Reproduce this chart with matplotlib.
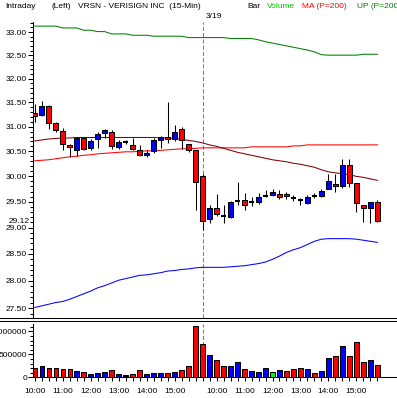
import numpy as np
import matplotlib
matplotlib.use('Agg')
import matplotlib.pyplot as plt
from matplotlib.ticker import FixedLocator, FuncFormatter, NullFormatter
from matplotlib.transforms import blended_transform_factory

plt.rcParams['font.family'] = ['Liberation Sans', 'DejaVu Sans']

# 15-min bars, 3/18 10:00 .. 3/19 15:45
opens = [31.28, 31.24, 31.42, 31.08, 30.91, 30.63, 30.52, 30.77, 30.57, 30.74,
         30.88, 30.89, 30.59, 30.69, 30.63, 30.53, 30.43, 30.51, 30.72, 30.78,
         30.75, 30.95, 30.65, 30.52,
         30.00, 29.17, 29.37, 29.22, 29.21, 29.51, 29.54, 29.49, 29.49, 29.61,
         29.63, 29.65, 29.65, 29.57, 29.53, 29.47, 29.61, 29.61, 29.75, 29.85,
         29.81, 30.22, 29.86, 29.44, 29.37, 29.49]
highs = [31.46, 31.54, 31.44, 31.10, 30.97, 30.65, 30.79, 30.79, 30.75, 30.89,
         30.95, 30.93, 30.73, 30.73, 30.77, 30.63, 30.52, 30.77, 30.81, 31.51,
         31.03, 30.99, 30.65, 30.52,
         30.05, 29.44, 29.66, 29.44, 29.51, 29.88, 29.67, 29.59, 29.67, 29.73,
         29.75, 29.73, 29.70, 29.63, 29.58, 29.63, 29.67, 29.75, 30.04, 30.04,
         30.34, 30.34, 29.86, 29.44, 29.49, 29.54]
lows = [31.10, 31.21, 30.95, 30.89, 30.52, 30.39, 30.40, 30.52, 30.52, 30.57,
        30.77, 30.54, 30.55, 30.64, 30.52, 30.41, 30.39, 30.47, 30.57, 30.66,
        30.70, 30.55, 30.49, 29.34,
        28.95, 29.08, 29.22, 29.09, 29.19, 29.43, 29.34, 29.42, 29.45, 29.60,
        29.61, 29.56, 29.55, 29.51, 29.44, 29.46, 29.57, 29.60, 29.75, 29.69,
        29.77, 29.78, 29.30, 29.10, 29.09, 29.11]
closes = [31.23, 31.42, 31.07, 30.93, 30.65, 30.59, 30.77, 30.55, 30.71, 30.85,
          30.93, 30.61, 30.69, 30.69, 30.55, 30.43, 30.47, 30.73, 30.79, 30.74,
          30.90, 30.72, 30.52, 29.88,
          29.13, 29.37, 29.27, 29.22, 29.49, 29.51, 29.43, 29.49, 29.60, 29.61,
          29.69, 29.60, 29.61, 29.57, 29.53, 29.60, 29.61, 29.72, 29.90, 29.80,
          30.23, 29.86, 29.47, 29.37, 29.49, 29.12]

volume = [203000, 239000, 203000, 203000, 181000, 181000, 130000, 116000, 72000, 94000,
          116000, 152000, 72000, 51000, 72000, 152000, 72000, 94000, 94000, 94000,
          116000, 152000, 239000, 1109000,
          725000, 486000, 370000, 239000, 239000, 333000, 174000, 138000, 109000, 196000,
          109000, 152000, 138000, 174000, 196000, 174000, 87000, 138000, 413000, 457000,
          674000, 457000, 761000, 326000, 370000, 261000]
vol_tick = ['down', 'up', 'down', 'down', 'down', 'down', 'up', 'down', 'up', 'up',
            'up', 'down', 'up', 'none', 'down', 'down', 'up', 'up', 'up', 'down',
            'up', 'down', 'down', 'down',
            'down', 'up', 'down', 'down', 'up', 'up', 'down', 'up', 'up', 'up',
            'flat', 'up', 'down', 'down', 'down', 'up', 'down', 'up', 'up', 'down',
            'up', 'down', 'down', 'down', 'up', 'down']

ma_short = [30.71, 30.73, 30.75, 30.76, 30.77, 30.77, 30.78, 30.78, 30.78, 30.78,
            30.78, 30.78, 30.78, 30.78, 30.78, 30.78, 30.78, 30.78, 30.77, 30.77,
            30.76, 30.74, 30.72, 30.70,
            30.67, 30.63, 30.60, 30.56, 30.52, 30.48, 30.45, 30.42, 30.39, 30.36,
            30.33, 30.31, 30.29, 30.26, 30.24, 30.21, 30.18, 30.13, 30.09, 30.07,
            30.05, 30.03, 30.00, 29.98, 29.95, 29.92]
ma200 = [30.31, 30.32, 30.33, 30.35, 30.37, 30.39, 30.40, 30.42, 30.43, 30.45,
         30.46, 30.47, 30.48, 30.49, 30.49, 30.50, 30.51, 30.51, 30.52, 30.53,
         30.54, 30.55, 30.55, 30.56,
         30.57, 30.57, 30.57, 30.57, 30.57, 30.57, 30.57, 30.59, 30.59, 30.59,
         30.59, 30.59, 30.59, 30.61, 30.61, 30.63, 30.63, 30.63, 30.63, 30.63,
         30.63, 30.63, 30.63, 30.63, 30.63, 30.63]
upper = [33.13, 33.13, 33.13, 33.13, 33.09, 33.09, 33.09, 33.04, 33.04, 33.01,
         33.01, 32.96, 32.96, 32.96, 32.93, 32.93, 32.93, 32.91, 32.91, 32.91,
         32.91, 32.91, 32.88, 32.88,
         32.88, 32.88, 32.88, 32.88, 32.86, 32.86, 32.86, 32.86, 32.83, 32.79,
         32.76, 32.73, 32.70, 32.67, 32.64, 32.61, 32.57, 32.51, 32.50, 32.50,
         32.50, 32.50, 32.50, 32.52, 32.52, 32.52]
lower = [27.51, 27.54, 27.57, 27.60, 27.62, 27.66, 27.71, 27.76, 27.81, 27.87,
         27.91, 27.96, 28.01, 28.04, 28.07, 28.10, 28.11, 28.13, 28.15, 28.18,
         28.19, 28.21, 28.22, 28.24,
         28.25, 28.25, 28.25, 28.25, 28.26, 28.27, 28.28, 28.30, 28.32, 28.35,
         28.40, 28.46, 28.53, 28.58, 28.62, 28.68, 28.74, 28.78, 28.79, 28.79,
         28.79, 28.79, 28.78, 28.76, 28.74, 28.72]

time_labels = {0: '10:00', 4: '11:00', 8: '12:00', 12: '13:00', 16: '14:00', 20: '15:00',
               26: '10:00', 30: '11:00', 34: '12:00', 38: '13:00', 42: '14:00', 46: '15:00'}
day_break = 24
day_label = '3/19'

W, H = 397, 398
fig = plt.figure(figsize=(W / 100, H / 100), dpi=100)

def fx(px):
    return px / W

def fy(py):
    return 1 - py / H

ax = fig.add_axes([fx(33.3), fy(318), 1 - fx(33.3), (318 - 22) / H])
axv = fig.add_axes([fx(33.3), fy(377.3), 1 - fx(33.3), (377.3 - 324) / H])

o = np.array(opens); h = np.array(highs); l = np.array(lows); c = np.array(closes)
x = np.arange(len(o))
fs = 6.0
lw = 0.75

# ---- price panel ----
ax.set_yscale('log')
ax.plot(x, upper, color='#008000', lw=lw, zorder=2)
ax.plot(x, lower, color='#0000ff', lw=lw, zorder=2)
ax.plot(x, ma200, color='#ff0000', lw=lw, zorder=2)
ax.plot(x, ma_short, color='#800000', lw=lw, zorder=2)
ax.axvline(day_break, color='#808080', lw=lw, ls=(0, (4, 2)), zorder=1)

ax.vlines(x, l, h, color='black', lw=lw, zorder=3)
up = c > o
dn = c < o
flat = c == o
ax.bar(x[up], (c - o)[up], bottom=o[up], width=0.72, color='#0000ff',
       edgecolor='black', lw=lw, zorder=4)
ax.bar(x[dn], (o - c)[dn], bottom=c[dn], width=0.72, color='#ff0000',
       edgecolor='black', lw=lw, zorder=4)
ax.hlines(c[flat], x[flat] - 0.4, x[flat] + 0.4, color='black', lw=1.5, zorder=4)

ax.set_xlim(-0.2, 51.8)
ax.set_ylim(27.32, 33.22)
for s in ['top', 'right', 'bottom']:
    ax.spines[s].set_visible(False)
ax.spines['left'].set_linewidth(lw)
ax.set_xticks([])
ax.yaxis.set_major_locator(FixedLocator(np.arange(27.5, 33.01, 0.5)))
ax.yaxis.set_major_formatter(FuncFormatter(lambda v, p: '%.2f' % v))
ax.yaxis.set_minor_locator(FixedLocator(np.arange(27.4, 33.21, 0.1)))
ax.yaxis.set_minor_formatter(NullFormatter())
ax.tick_params(axis='y', which='major', direction='out', length=3.5, width=lw,
               pad=1, labelsize=fs)
ax.tick_params(axis='y', which='minor', direction='out', length=2, width=lw)

trans = blended_transform_factory(ax.transAxes, ax.transData)
ax.text(-0.011, c[-1], '%.2f' % c[-1], transform=trans, ha='right', va='center',
        fontsize=fs, zorder=10, clip_on=False,
        bbox=dict(facecolor='white', edgecolor='none', pad=0.2))

# ---- volume panel ----
vcol = {'up': '#0000ff', 'down': '#ff0000', 'flat': '#00ff00', 'none': '#000000'}
axv.axvline(day_break, color='#808080', lw=lw, ls=(0, (4, 2)), zorder=1)
axv.bar(x, volume, width=0.62, color=[vcol[t] for t in vol_tick],
        edgecolor='black', lw=lw, zorder=3)
axv.set_xlim(-0.2, 51.8)
axv.set_ylim(0, 1159000)
for s in ['top', 'right']:
    axv.spines[s].set_visible(False)
axv.spines['left'].set_linewidth(lw)
axv.spines['bottom'].set_linewidth(lw)
axv.yaxis.set_major_locator(FixedLocator([0, 500000, 1000000]))
axv.yaxis.set_major_formatter(FuncFormatter(lambda v, p: '%d' % v))
axv.yaxis.set_minor_locator(FixedLocator(np.arange(0, 1150001, 100000)))
axv.yaxis.set_minor_formatter(NullFormatter())
axv.tick_params(axis='y', which='major', direction='out', length=3.5, width=lw,
                pad=1, labelsize=fs)
axv.tick_params(axis='y', which='minor', direction='out', length=2, width=lw)
axv.set_xticks(x)
axv.set_xticklabels([time_labels.get(i, '') for i in x])
axv.tick_params(axis='x', direction='out', length=3, width=lw, pad=4.5, labelsize=fs)

# separator between panels
for yy in (318.3, 320.6):
    fig.add_artist(plt.Line2D([0, 1], [fy(yy), fy(yy)], color='black', lw=lw))

# header
hy = fy(7)
fig.text(fx(5), hy, 'Intraday', fontsize=fs, va='center')
fig.text(fx(52), hy, '(Left)', fontsize=fs, va='center')
fig.text(fx(78), hy, 'VRSN - VERISIGN INC  (15-Min)', fontsize=fs, va='center')
fig.text(fx(247), hy, 'Bar', fontsize=fs, va='center')
fig.text(fx(267), hy, 'Volume', fontsize=fs, va='center', color='#00c000')
fig.text(fx(302), hy, 'MA (P=200)', fontsize=fs, va='center', color='#ff0000')
fig.text(fx(357), hy, 'UP (P=200)', fontsize=fs, va='center', color='#008000')
tx = blended_transform_factory(ax.transData, fig.transFigure)
fig.text(day_break + 0.4, fy(16), day_label, fontsize=fs, va='center', transform=tx)

fig.savefig('out.png', dpi=100)
